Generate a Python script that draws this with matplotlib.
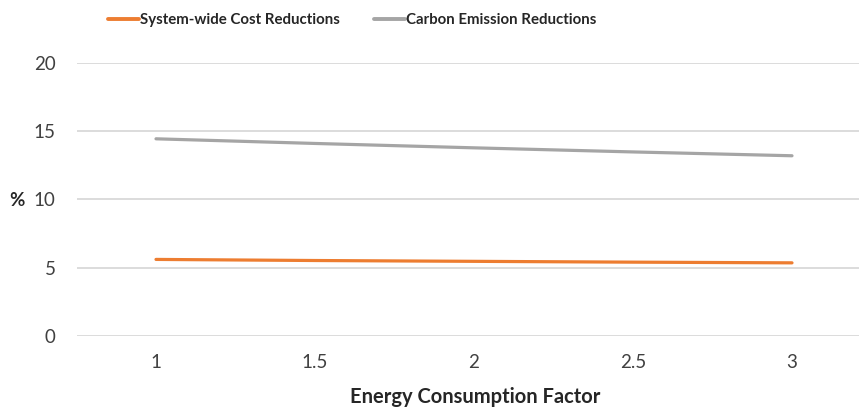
import matplotlib
matplotlib.use("Agg")
import matplotlib.pyplot as plt

plt.rcParams['font.family'] = ['Lato', 'DejaVu Sans']

factors = ["1", "1.5", "2", "2.5", "3"]
cost_reductions = [5.6, 5.52, 5.46, 5.4, 5.35]
carbon_reductions = [14.42, 14.08, 13.76, 13.46, 13.18]

fig = plt.figure(figsize=(8.59, 4.07), dpi=100)
W, H = 859, 407
left, right, top, bottom = 76.5, 871.5, 62.5, 336
ax = fig.add_axes([left / W, 1 - bottom / H, (right - left) / W, (bottom - top) / H])

xs = range(len(factors))
ax.plot(xs, cost_reductions, color="#ED7D31", lw=2.3, solid_capstyle="round",
        label="System-wide Cost Reductions")
ax.plot(xs, carbon_reductions, color="#A5A5A5", lw=2.3, solid_capstyle="round",
        label="Carbon Emission Reductions")

ax.set_xlim(-0.5, len(factors) - 0.5)
ax.set_ylim(0, 20)
ax.set_yticks([0, 5, 10, 15, 20])
ax.set_xticks(list(xs))
ax.set_xticklabels(factors)
ax.grid(axis="y", color="#d9d9d9", lw=1.3)
ax.set_axisbelow(True)
for s in ax.spines.values():
    s.set_visible(False)
ax.tick_params(length=0, labelsize=13.5, colors="#404040", pad=13)
ax.tick_params(axis="y", pad=15)

fig.text(9 / W, 1 - 200 / H, "%", fontsize=13.5, fontweight="bold", color="#262626",
         ha="left", va="center")
fig.text(475 / W, 1 - 397 / H, "Energy Consumption Factor", fontsize=14.5,
         fontweight="bold", color="#262626", ha="center", va="center")

# legend across the top, text kept narrow
leg = fig.legend(loc="center left", bbox_to_anchor=(108 / W, 1 - 20 / H), ncol=2,
                 frameon=False, handlelength=2.05, handletextpad=0.08, columnspacing=2.3,
                 borderaxespad=0, borderpad=0,
                 prop={"size": 10.8, "weight": "bold"})
for t in leg.get_texts():
    t.set_color("#262626")
for h in leg.get_lines():
    h.set_linewidth(2.8)

fig.savefig("out.png", dpi=100, facecolor="white")
